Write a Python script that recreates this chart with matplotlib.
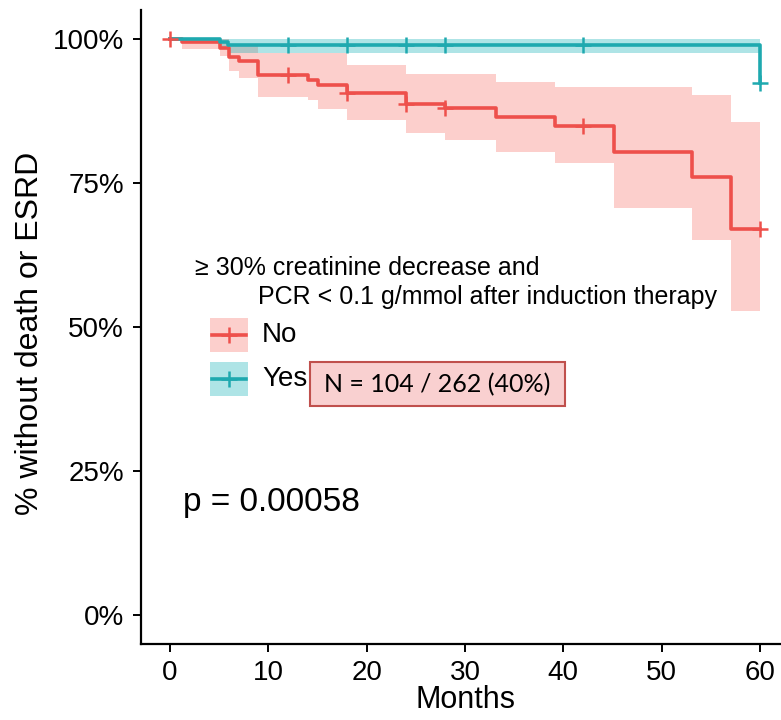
import numpy as np
import matplotlib
matplotlib.use('Agg')
import matplotlib.pyplot as plt
from matplotlib.patches import Rectangle
from matplotlib.lines import Line2D

plt.rcParams['font.family'] = ['Liberation Sans', 'DejaVu Sans']

# Kaplan-Meier estimates
months_no = [0, 1.2, 5.1, 6.0, 7.0, 9.0, 14.0, 15.1, 18.0, 24.0, 28.0, 33.2, 39.2, 45.2, 53.1, 57.1, 60]
surv_no = [1.0, 0.994, 0.985, 0.969, 0.962, 0.9375, 0.929, 0.921, 0.906, 0.888, 0.880, 0.864, 0.849, 0.804, 0.761, 0.670, 0.670]
lower_no = [1.0, 0.982, 0.970, 0.945, 0.932, 0.900, 0.894, 0.878, 0.859, 0.836, 0.825, 0.804, 0.784, 0.707, 0.651, 0.527, 0.527]
upper_no = [1.0, 1.0, 1.0, 0.990, 0.990, 0.975, 0.975, 0.975, 0.955, 0.940, 0.940, 0.926, 0.917, 0.917, 0.903, 0.856, 0.856]
censor_no = [0, 12, 18, 24, 28, 42, 60]

months_yes = [0, 5.1, 5.9, 60]
surv_yes = [1.0, 0.995, 0.990, 0.923]
lower_yes = [1.0, 0.985, 0.975, 0.975]
upper_yes = [1.0, 1.0, 1.0, 1.0]
censor_yes = [12, 18, 24, 28, 42, 60]

x_ticks = [0, 10, 20, 30, 40, 50, 60]
y_ticks = [0, 0.25, 0.5, 0.75, 1.0]
y_labels = ['0%', '25%', '50%', '75%', '100%']

red = '#EE504B'
red_fill = '#F8766D'
teal = '#1EA9AF'
teal_fill = '#19B4BA'

W, H = 781, 720
fig = plt.figure(figsize=(W / 100, H / 100), dpi=100)
ax = fig.add_axes([140.5 / W, 1 - 643.8 / H, 640.5 / W, 633.6 / H])


def censor_vals(t, s, c):
    idx = np.searchsorted(t, c, side='right') - 1
    return np.array(s)[idx]


ax.fill_between(months_no, lower_no, upper_no, step='post', color=red_fill, alpha=0.35, lw=0)
ax.fill_between(months_yes, lower_yes, upper_yes, step='post', color=teal_fill, alpha=0.35, lw=0)
ax.step(months_no, surv_no, where='post', color=red, lw=2.6)
ax.step(months_yes, surv_yes, where='post', color=teal, lw=2.6)
ax.plot(censor_yes, censor_vals(months_yes, surv_yes, censor_yes), ls='none', marker='+',
        ms=12, mew=1.8, color=teal)
ax.plot(censor_no, censor_vals(months_no, surv_no, censor_no), ls='none', marker='+',
        ms=12, mew=1.8, color=red)

ax.set_xlim(-3, 62.14)
ax.set_ylim(-0.05, 1.05)
ax.set_xticks(x_ticks)
ax.set_yticks(y_ticks)
ax.set_yticklabels(y_labels)
for s in ['top', 'right']:
    ax.spines[s].set_visible(False)
for s in ['left', 'bottom']:
    ax.spines[s].set_linewidth(1.6)
ax.tick_params(labelsize=20, length=6, width=1.4, color='black', pad=6)

ax.text(1.3, 0.196, 'p = 0.00058', fontsize=24, va='center', ha='left')


def fx(x):
    return x / W


def fy(y):
    return 1 - y / H


# axis titles
fig.text(fx(466), fy(700), 'Months', fontsize=22, ha='center', va='center')
fig.text(fx(30), fy(333), '% without death or ESRD', fontsize=23, rotation=90,
         ha='center', va='center')

# legend
fig.text(fx(195), fy(268), '\u2265 30% creatinine decrease and', fontsize=18, va='center')
fig.text(fx(258), fy(297), 'PCR < 0.1 g/mmol after induction therapy', fontsize=18, va='center')
for (yc, lab, lc, fc) in [(335, 'No', red, red_fill), (379, 'Yes', teal, teal_fill)]:
    fig.patches.append(Rectangle((fx(210), fy(yc + 17)), 38 / W, 34 / H, transform=fig.transFigure,
                                 facecolor=fc, alpha=0.35, lw=0))
    fig.lines.append(Line2D([fx(212), fx(246)], [fy(yc), fy(yc)], transform=fig.transFigure,
                            color=lc, lw=2.6))
    fig.lines.append(Line2D([fx(229)], [fy(yc)], transform=fig.transFigure, color=lc,
                            marker='+', ms=12, mew=1.8))
    fig.text(fx(262), fy(yc), lab, fontsize=20, va='center')

# N box
fig.patches.append(Rectangle((fx(310), fy(406)), 255 / W, 44 / H, transform=fig.transFigure,
                             facecolor='#F9D0D0', edgecolor='#C0504D', lw=1.5))
fig.text(fx(437), fy(385), 'N = 104 / 262 (40%)', fontsize=18, va='center', ha='center',
         family=['Lato', 'DejaVu Sans'])

fig.savefig('out.png', dpi=100)
